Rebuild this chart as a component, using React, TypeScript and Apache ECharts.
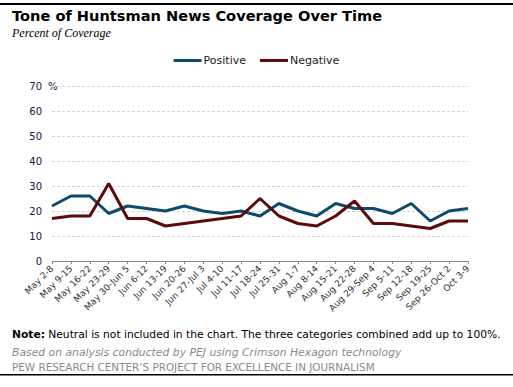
import React, { useEffect, useRef } from "react";
import * as echarts from "echarts";

const categories = [
  "May 2-8", "May 9-15", "May 16-22", "May 23-29", "May 30-Jun 5", "Jun 6-12",
  "Jun 13-19", "Jun 20-26", "Jun 27-Jul 3", "Jul 4-10", "Jul 11-17", "Jul 18-24",
  "Jul 25-31", "Aug 1-7", "Aug 8-14", "Aug 15-21", "Aug 22-28", "Aug 29-Sep 4",
  "Sep 5-11", "Sep 12-18", "Sep 19-25", "Sep 26-Oct 2", "Oct 3-9",
];
const positive = [22, 26, 26, 19, 22, 21, 20, 22, 20, 19, 20, 18, 23, 20, 18, 23, 21, 21, 19, 23, 16, 20, 21];
const negative = [17, 18, 18, 31, 17, 17, 14, 15, 16, 17, 18, 25, 18, 15, 14, 18, 24, 15, 15, 14, 13, 16, 16];
const yTicks = [0, 10, 20, 30, 40, 50, 60, 70];

const title = "Tone of Huntsman News Coverage Over Time";
const subtitle = "Percent of Coverage";
const note = "Neutral is not included in the chart. The three categories combined add up to 100%.";
const source = "Based on analysis conducted by PEJ using Crimson Hexagon technology";
const credit = "PEW RESEARCH CENTER\u2019S PROJECT FOR EXCELLENCE IN JOURNALISM";

const FONT = "DejaVu Sans";

export default function App() {
  const ref = useRef<HTMLDivElement>(null);
  useEffect(() => {
    if (!ref.current) return;
    const chart = echarts.init(ref.current, undefined, { renderer: "svg" });
    chart.setOption({
      animation: false,
      backgroundColor: "#ffffff",
      grid: { left: 52, right: 45, top: 86, bottom: 126 },
      legend: {
        data: ["Positive", "Negative"],
        left: "center",
        top: 50,
        icon: "rect",
        itemWidth: 28,
        itemHeight: 3,
        itemGap: 14,
        textStyle: { fontFamily: FONT, fontSize: 11, color: "#1a1a1a", padding: [0, 0, 0, -3] },
      },
      xAxis: {
        type: "category",
        data: categories,
        boundaryGap: false,
        axisLine: { lineStyle: { color: "#888888", width: 1 } },
        axisTick: { show: true, length: 3, lineStyle: { color: "#888888" } },
        axisLabel: {
          interval: 0,
          rotate: 45,
          fontFamily: FONT,
          fontSize: 9,
          color: "#333333",
          margin: 6,
        },
      },
      yAxis: {
        type: "value",
        min: yTicks[0],
        max: yTicks[yTicks.length - 1],
        interval: 10,
        axisLine: { show: false },
        axisTick: { show: false },
        splitLine: { lineStyle: { color: "#d4d4d4", type: [3, 2], width: 1 } },
        axisLabel: { fontFamily: FONT, fontSize: 10, color: "#14143c", margin: 10 },
      },
      series: [
        {
          name: "Positive",
          type: "line",
          data: positive,
          symbol: "none",
          lineStyle: { color: "#0f4a6e", width: 3 },
          itemStyle: { color: "#0f4a6e" },
        },
        {
          name: "Negative",
          type: "line",
          data: negative,
          symbol: "none",
          lineStyle: { color: "#5c0a0a", width: 3 },
          itemStyle: { color: "#5c0a0a" },
        },
      ],
      graphic: [
        { type: "rect", shape: { x: 0, y: 3, width: 513, height: 2 }, style: { fill: "#000" } },
        {
          type: "text", x: 12, y: 8,
          style: { text: title, font: `bold 14.6px ${FONT}`, fill: "#000" },
        },
        {
          type: "text", x: 12, y: 27,
          style: { text: subtitle, font: "italic 12px 'Liberation Serif'", fill: "#000" },
        },
        {
          type: "text", x: 48, y: 81,
          style: { text: "%", font: `10px ${FONT}`, fill: "#14143c" },
        },
        {
          type: "text", x: 12, y: 329,
          style: {
            text: `{b|Note:} ${note}`,
            font: `10.7px ${FONT}`,
            fill: "#000",
            rich: { b: { fontWeight: "bold", fontFamily: FONT, fontSize: 10.7, fill: "#000" } },
          },
        },
        {
          type: "text", x: 12, y: 347,
          style: { text: source, font: `italic 10.8px ${FONT}`, fill: "#8a8a8a" },
        },
        {
          type: "text", x: 12, y: 362,
          style: { text: credit, font: `10.4px ${FONT}`, fill: "#8a8a8a" },
        },
        { type: "rect", shape: { x: 0, y: 374, width: 513, height: 1.5 }, style: { fill: "#000" } },
      ],
    });
    return () => chart.dispose();
  }, []);
  return (
    <div
      ref={ref}
      style={{ position: "fixed", left: 0, top: 0, width: 513, height: 387 }}
    />
  );
}
